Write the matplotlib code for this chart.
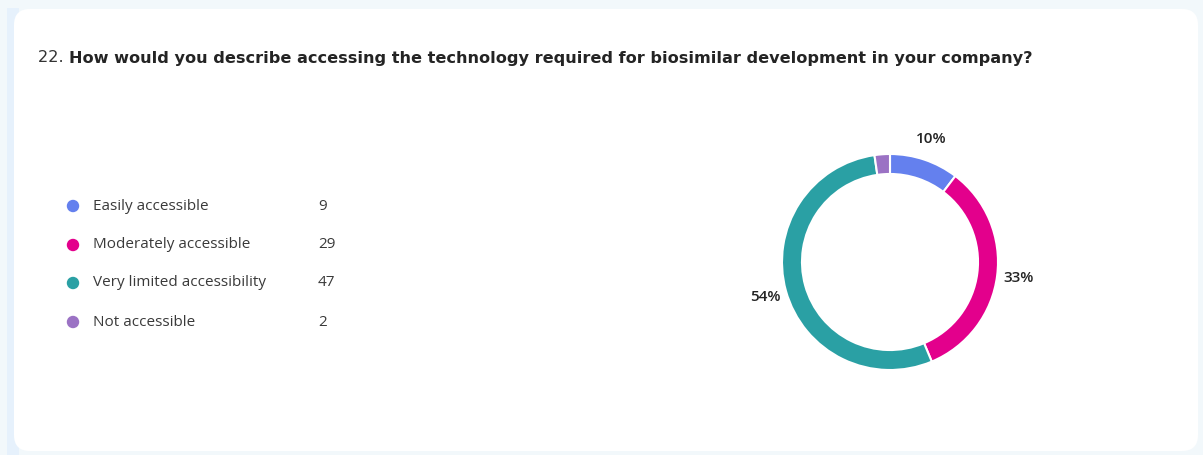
import matplotlib
matplotlib.use("Agg")
import matplotlib.pyplot as plt
from matplotlib.patches import FancyBboxPatch, Rectangle

# Survey responses
categories = ["Easily accessible", "Moderately accessible",
              "Very limited accessibility", "Not accessible"]
counts = [9, 29, 47, 2]
colors = ["#6480ee", "#e3008c", "#2aa0a4", "#9b72c4"]
question_no = "22."
question = "How would you describe accessing the technology required for biosimilar development in your company?"

W, H = 1203, 455
fig = plt.figure(figsize=(W / 100, H / 100), dpi=100)
fig.patch.set_facecolor("#f2f8fb")

plt.rcParams["font.family"] = ["Open Sans", "DejaVu Sans"]

# background canvas with card
bg = fig.add_axes([0, 0, 1, 1])
bg.set_xlim(0, W)
bg.set_ylim(H, 0)
bg.axis("off")
bg.add_patch(Rectangle((7, 8), 12, H, facecolor="#e6f1fc", edgecolor="none"))
bg.add_patch(FancyBboxPatch((14, 9), 1184, 442,
                            boxstyle="round,pad=0,rounding_size=16",
                            facecolor="white", edgecolor="none"))

# title: number in regular weight, question in bold, spanning to x=1030
title_left, title_right, title_y = 38, 1030, 58
renderer = fig.canvas.get_renderer()
size = 11.0
for _ in range(3):
    t1 = bg.text(title_left, title_y, question_no + " ", fontsize=size,
                 color="#333333", va="center", ha="left",
                 family=["DejaVu Sans"])
    w1 = t1.get_window_extent(renderer).width
    t2 = bg.text(title_left + w1, title_y, question, fontsize=size,
                 color="#242424", fontweight="bold", va="center", ha="left",
                 family=["DejaVu Sans"])
    w2 = t2.get_window_extent(renderer).width
    total_w = w1 + w2
    t1.remove()
    t2.remove()
    size *= (title_right - title_left) / total_w
t1 = bg.text(title_left, title_y, question_no + " ", fontsize=size,
             color="#333333", va="center", ha="left", family=["DejaVu Sans"])
w1 = t1.get_window_extent(renderer).width
bg.text(title_left + w1, title_y, question, fontsize=size, color="#242424",
        fontweight="bold", va="center", ha="left", family=["DejaVu Sans"])

# legend
row_y = [206, 245, 283, 322]
for name, n, c, y in zip(categories, counts, colors, row_y):
    bg.scatter([73], [y], s=80, color=c, edgecolors="none")
    bg.text(93, y, name, fontsize=11, color="#3a3a3a", va="center", ha="left")
    bg.text(318, y, str(n), fontsize=11, color="#3a3a3a", va="center", ha="left")

# donut
cx, cy, r = 890, 262, 108
ax = fig.add_axes([(cx - r) / W, (H - cy - r) / H, 2 * r / W, 2 * r / H])
wedges, texts, autotexts = ax.pie(
    counts, colors=colors, startangle=90, counterclock=False, radius=1,
    wedgeprops=dict(width=0.185, edgecolor="white", linewidth=1.5),
    autopct=lambda p: f"{round(p)}%" if p > 5 else "", pctdistance=1.2,
    textprops=dict(fontsize=11, color="#242424", fontweight="semibold"))
ax.set_xlim(-1, 1)
ax.set_ylim(-1, 1)
ax.set_aspect("equal")
ax.axis("off")

fig.savefig("out.png", dpi=100, facecolor=fig.get_facecolor())
